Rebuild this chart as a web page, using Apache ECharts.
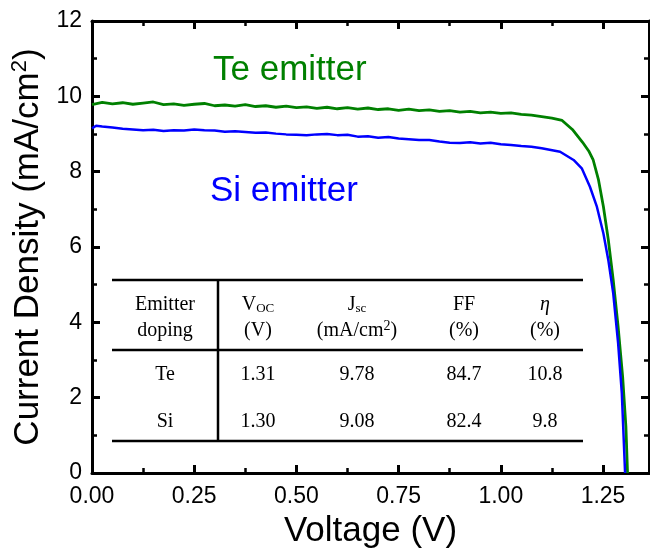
<!DOCTYPE html>
<html>
<head>
<meta charset="utf-8">
<script src="https://cdn.jsdelivr.net/npm/echarts@6/dist/echarts.min.js"></script>
<style>
  html, body { margin: 0; padding: 0; background: #fff; }
  #main { width: 650px; height: 548px; }
</style>
</head>
<body>
<div id="main"></div>
<script>
// J-V curves: [voltage (V), current density (mA/cm2)]
var teCurve = [
  [0.000, 9.78], [0.025, 9.84], [0.050, 9.80], [0.075, 9.83], [0.100, 9.79],
  [0.125, 9.82], [0.150, 9.85], [0.175, 9.78], [0.200, 9.80], [0.225, 9.76],
  [0.250, 9.79], [0.275, 9.81], [0.300, 9.75], [0.325, 9.77], [0.350, 9.74],
  [0.375, 9.78], [0.400, 9.73], [0.425, 9.75], [0.450, 9.71], [0.475, 9.74],
  [0.500, 9.70], [0.525, 9.72], [0.550, 9.68], [0.575, 9.71], [0.600, 9.67],
  [0.625, 9.70], [0.650, 9.66], [0.675, 9.69], [0.700, 9.65], [0.725, 9.67],
  [0.750, 9.63], [0.775, 9.66], [0.800, 9.62], [0.825, 9.64], [0.850, 9.60],
  [0.875, 9.62], [0.900, 9.58], [0.925, 9.60], [0.950, 9.56], [0.975, 9.58],
  [1.000, 9.55], [1.025, 9.56], [1.050, 9.52], [1.075, 9.50], [1.100, 9.46],
  [1.125, 9.42], [1.150, 9.36], [1.175, 9.12], [1.200, 8.78], [1.215, 8.55],
  [1.226, 8.31], [1.239, 7.78], [1.251, 7.07], [1.263, 6.19], [1.275, 5.12],
  [1.287, 3.88], [1.298, 2.56], [1.306, 1.23], [1.310, 0]
];
var siCurve = [
  [0.000, 9.15], [0.010, 9.22], [0.025, 9.20], [0.050, 9.17], [0.075, 9.14],
  [0.100, 9.12], [0.125, 9.10], [0.150, 9.11], [0.175, 9.08], [0.200, 9.10],
  [0.225, 9.09], [0.250, 9.12], [0.275, 9.10], [0.300, 9.09], [0.325, 9.06],
  [0.350, 9.07], [0.375, 9.05], [0.400, 9.03], [0.425, 9.04], [0.450, 9.01],
  [0.475, 8.99], [0.500, 8.98], [0.525, 8.97], [0.550, 8.99], [0.575, 9.00],
  [0.600, 8.97], [0.625, 8.98], [0.650, 8.93], [0.675, 8.94], [0.700, 8.90],
  [0.725, 8.92], [0.750, 8.88], [0.775, 8.86], [0.800, 8.84], [0.825, 8.84],
  [0.850, 8.80], [0.875, 8.77], [0.900, 8.76], [0.925, 8.78], [0.950, 8.75],
  [0.975, 8.77], [1.000, 8.73], [1.025, 8.71], [1.050, 8.68], [1.075, 8.66],
  [1.100, 8.62], [1.145, 8.53], [1.178, 8.31], [1.198, 8.09], [1.218, 7.60],
  [1.235, 7.07], [1.251, 6.36], [1.263, 5.65], [1.275, 4.77], [1.287, 3.44],
  [1.296, 2.12], [1.301, 0.80], [1.304, 0]
];

// table
var tableHead1 = ['Emitter', 'V{sub|OC}', 'J{sub|sc}', 'FF', '{it|η}'];
var tableHead2 = ['doping', '(V)', '(mA/cm{sup|2})', '(%)', '(%)'];
var tableRows = [
  ['Te', '1.31', '9.78', '84.7', '10.8'],
  ['Si', '1.30', '9.08', '82.4', '9.8']
];

var myChart = echarts.init(document.getElementById('main'));

var colX = [165, 258, 357, 464, 545];
var tableRich = {
  sub: { fontSize: 13, fontFamily: 'Liberation Serif', padding: [8, 0, 0, 0] },
  sup: { fontSize: 14, fontFamily: 'Liberation Serif', padding: [0, 0, 9, 0] },
  it: { fontStyle: 'italic', fontSize: 20, fontFamily: 'Liberation Serif' }
};
function cell(txt, x, y) {
  return {
    type: 'text', x: x, y: y, z: 10,
    style: {
      text: txt, fill: '#000', font: '20px "Liberation Serif"',
      align: 'center', verticalAlign: 'middle', rich: tableRich
    }
  };
}
function hline(y, x1, x2) {
  return { type: 'line', z: 10, shape: { x1: x1, y1: y, x2: x2, y2: y }, style: { stroke: '#000', lineWidth: 2.5 } };
}

var graphics = [
  hline(280, 112, 583), hline(350, 112, 583), hline(441, 112, 583),
  { type: 'line', z: 10, shape: { x1: 218, y1: 280, x2: 218, y2: 441 }, style: { stroke: '#000', lineWidth: 2.5 } },
  {
    type: 'text', x: 213, y: 70, z: 10,
    style: { text: 'Te emitter', fill: '#008000', font: '35px "Liberation Sans"', verticalAlign: 'middle' }
  },
  {
    type: 'text', x: 210, y: 191, z: 10,
    style: { text: 'Si emitter', fill: '#0000ff', font: '35px "Liberation Sans"', verticalAlign: 'middle' }
  }
];
for (var i = 0; i < colX.length; i++) {
  graphics.push(cell(tableHead1[i], colX[i], 305));
  graphics.push(cell(tableHead2[i], colX[i], 331));
  graphics.push(cell(tableRows[0][i], colX[i], 375));
  graphics.push(cell(tableRows[1][i], colX[i], 422));
}

var axisLine = { show: true, onZero: false, lineStyle: { color: '#000', width: 3 } };
var axisTick = { inside: true, length: 8, lineStyle: { color: '#000', width: 3 } };
var minorTick = { show: true, splitNumber: 2, length: 5, lineStyle: { color: '#000', width: 2.5 } };

myChart.setOption({
  animation: false,
  textStyle: { fontFamily: 'Liberation Sans' },
  grid: { left: 92, right: 1, top: 21, bottom: 75, containLabel: false, outerBoundsMode: 'none' },
  xAxis: [
    {
      type: 'value', min: 0, max: 1.3625, interval: 0.25,
      name: 'Voltage (V)', nameLocation: 'middle', nameGap: 41,
      nameTextStyle: { fontSize: 35, color: '#000' },
      axisLine: axisLine, axisTick: axisTick, minorTick: minorTick,
      splitLine: { show: false },
      axisLabel: {
        fontSize: 23, color: '#000', margin: 12, showMaxLabel: false,
        formatter: function (v) { return v.toFixed(2); }
      }
    },
    {
      type: 'value', position: 'top', min: 0, max: 1.3625, interval: 0.25,
      axisLine: axisLine, axisTick: axisTick, minorTick: minorTick,
      splitLine: { show: false }, axisLabel: { show: false }
    }
  ],
  yAxis: [
    {
      type: 'value', min: 0, max: 12, interval: 2,
      name: 'Current Density (mA/cm{sup|2})', nameLocation: 'middle', nameGap: 42,
      nameTextStyle: {
        fontSize: 35, color: '#000',
        rich: { sup: { fontSize: 22, padding: [0, 0, 16, 0] } }
      },
      axisLine: axisLine, axisTick: axisTick, minorTick: minorTick,
      splitLine: { show: false },
      axisLabel: { fontSize: 23, color: '#000', margin: 10 }
    },
    {
      type: 'value', position: 'right', min: 0, max: 12, interval: 2,
      axisLine: axisLine, axisTick: axisTick, minorTick: minorTick,
      splitLine: { show: false }, axisLabel: { show: false }
    }
  ],
  series: [
    {
      name: 'Te', type: 'line', data: teCurve, showSymbol: false,
      lineStyle: { color: '#008000', width: 2.8 }
    },
    {
      name: 'Si', type: 'line', data: siCurve, showSymbol: false,
      lineStyle: { color: '#0000ff', width: 2.5 }
    }
  ],
  graphic: graphics
});
</script>
</body>
</html>
